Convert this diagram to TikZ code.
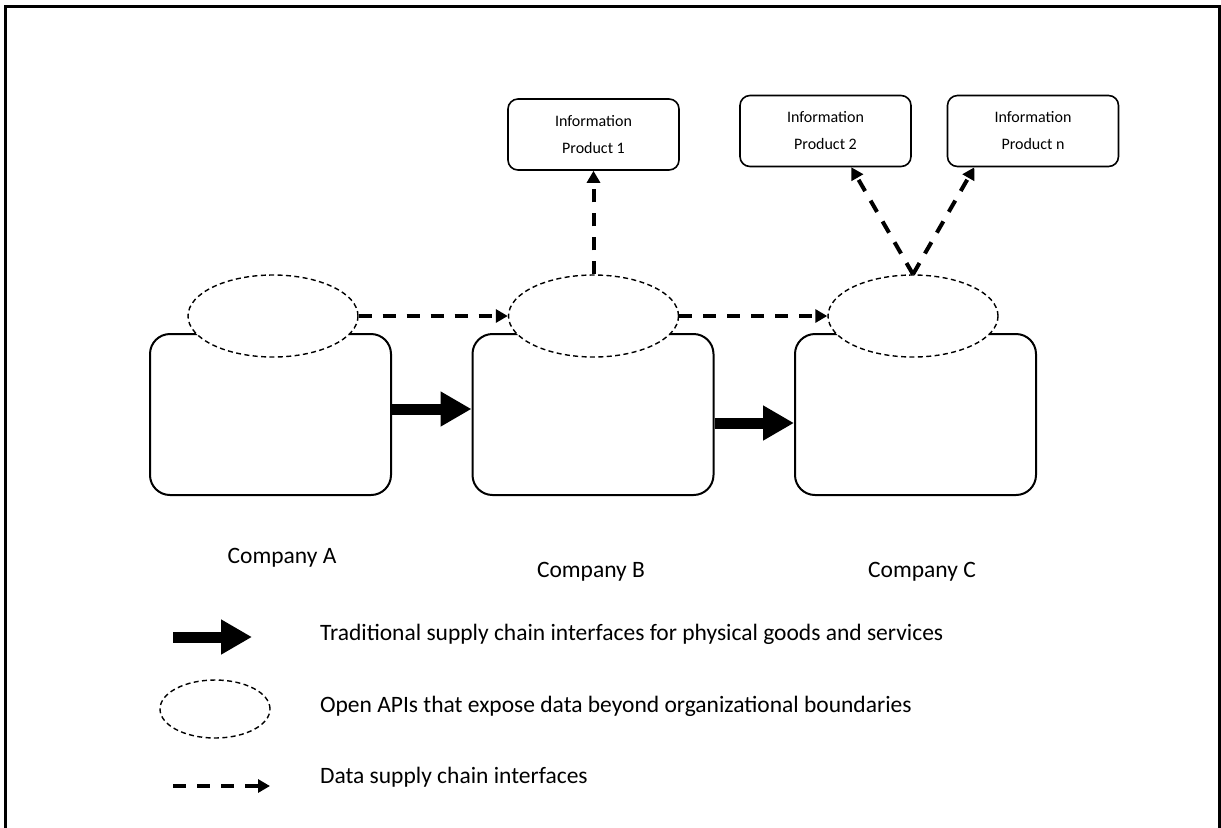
\documentclass[tikz,border=0pt]{standalone}
\usepackage{fontspec}
\setmainfont{Carlito}
\usetikzlibrary{arrows.meta,positioning,calc,shapes.geometric}

\begin{document}
\begin{tikzpicture}[x=0.5pt,y=-0.5pt,node distance=39.75pt,
  company/.style={draw,line width=1pt,rounded corners=10pt,minimum width=120.5pt,minimum height=80.5pt},
  api/.style={ellipse,draw,fill=white,line width=0.7pt,dash pattern=on 2.5pt off 1.7pt,minimum width=85pt,minimum height=41pt,inner sep=0pt},
  product/.style={draw,line width=0.8pt,rounded corners=5pt,minimum width=85.5pt,minimum height=35.5pt,align=center,font=\fontsize{8}{13.5}\selectfont},
  goods/.style={line width=5.5pt,-{Triangle[length=15.5pt,width=16.5pt]}},
  data/.style={line width=2pt,dash pattern=on 6.5pt off 5.5pt,-{Triangle[length=6pt,width=6.5pt]}},
  lbl/.style={font=\fontsize{11.75}{14}\selectfont}]
  \useasboundingbox (0,0) rectangle (1221,827);
  \draw[line width=1.5pt] (5,835) |- (1219,6) -- (1219,835);

  % companies
  \node[company] (cA) at (270.5,414.5) {};
  \node[company, right=of cA] (cB) {};
  \node[company, right=of cB] (cC) {};
  \node[api] (eA) at (273,316) {};
  \node[api] (eB) at (593.5,316) {};
  \node[api] (eC) at (913,316) {};
  \node[lbl, anchor=base] (nA) at (282,563) {Company A};
  \node[lbl, anchor=base] (nB) at (591,577) {Company B};
  \node[lbl, anchor=base] (nC) at (922,577) {Company C};

  % information products
  \node[product] (p1) at (593.5,134.5) {Information\\Product 1};
  \node[product] (p2) at (825.5,131)   {Information\\Product 2};
  \node[product] (pn) at (1033,131)    {Information\\Product n};

  \draw[goods] ([yshift=2.75pt]cA.east) -- ([yshift=2.75pt]cB.west);
  \draw[goods] ([yshift=-4.25pt]cB.east) -- ([yshift=-4.25pt]cC.west);
  \draw[data] (eA.east) -- (eB.west);
  \draw[data] (eB.east) -- (eC.west);
  \draw[data] (eB.north) -- (p1.south);
  \draw[data] (eC.north) -- ($(p2.south)!0.3!(p2.south east)$);
  \draw[data] (eC.north) -- ($(pn.south)!0.68!(pn.south west)$);

  % legend
  \coordinate (g1) at (173,637);
  \coordinate (g2) at (252,637);
  \coordinate (d1) at (173,786);
  \coordinate (d2) at (270,786);
  \draw[goods] (g1) -- (g2);
  \node[api, minimum width=55pt, minimum height=29pt] (eL) at (215,709) {};
  \draw[data] (d1) -- (d2);
  \node[lbl, anchor=base west] (t1) at (313,640) {Traditional supply chain interfaces for physical goods and services};
  \node[lbl, anchor=base west] (t2) at (313,712) {Open APIs that expose data beyond organizational boundaries};
  \node[lbl, anchor=base west] (t3) at (313,783) {Data supply chain interfaces};
\end{tikzpicture}
\end{document}
